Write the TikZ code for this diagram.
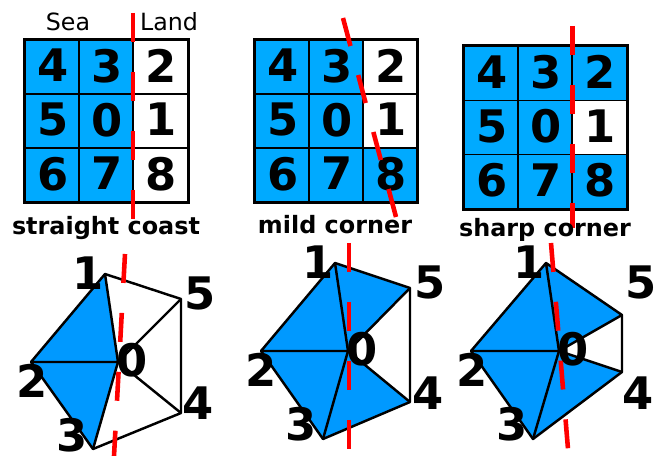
\documentclass[tikz,border=0pt]{standalone}
\usepackage{fontspec}
\setmainfont{DejaVu Sans}
\definecolor{seablue}{HTML}{00AAFF}
\definecolor{meshblue}{HTML}{0099FF}
\begin{document}
\begin{tikzpicture}[x=0.02cm, y=-0.02cm,
    digit/.style={font=\fontsize{25.5}{25.5}\selectfont\bfseries, inner sep=0pt},
    sea/.style={rectangle, draw=black, line width=1.1pt, fill=seablue, minimum size=1.08cm, inner sep=0pt,
                text depth=1.7pt, execute at begin node=\kern1pt,
                font=\fontsize{25.5}{25.5}\selectfont\bfseries},
    land/.style={sea, fill=white},
    frame/.style={draw=black, line width=1.5pt},
    caption/.style={anchor=base, inner sep=0pt, font=\fontsize{13.6}{13.6}\selectfont\bfseries},
    side/.style={anchor=base, inner sep=0pt, font=\fontsize{13.5}{13.5}\selectfont},
    wet/.style={fill=meshblue},
    edge/.style={draw=black, line width=1.4pt, line join=round},
    coast/.style={draw=red, line width=2.6pt, dash pattern=on 0.58cm off 0.6cm}]

    \useasboundingbox (0,0) rectangle (660,456);

    % straight coast
    \node (a4) [sea]  at (52,67)   {4};
    \node (a3) [sea]  at (106,67)  {3};
    \node (a2) [land] at (160.5,67) {2};
    \node (a5) [sea]  at (52,121)  {5};
    \node (a0) [sea]  at (106,121) {0};
    \node (a1) [land] at (160.5,121) {1};
    \node (a6) [sea]  at (52,175)  {6};
    \node (a7) [sea]  at (106,175) {7};
    \node (a8) [land] at (160.5,175) {8};
    \draw [frame] (a4.north west) rectangle (a8.south east);
    \coordinate (aTop) at (133,13);
    \coordinate (aBot) at (133,219);
    \draw [coast] (aTop) -- (aBot);
    \node (sea)  [side] at (68,31) {Sea};
    \node (land) [side] at (169,31) {Land};
    \node (aCap) [caption] at (106,235) {straight coast};

    % mild corner
    \node (b4) [sea]  at (282,67)  {4};
    \node (b3) [sea]  at (336,67)  {3};
    \node (b2) [land] at (390,67)  {2};
    \node (b5) [sea]  at (282,121) {5};
    \node (b0) [sea]  at (336,121) {0};
    \node (b1) [land] at (390,121) {1};
    \node (b6) [sea]  at (282,175) {6};
    \node (b7) [sea]  at (336,175) {7};
    \node (b8) [sea]  at (390,175) {8};
    \draw [frame] (b4.north west) rectangle (b8.south east);
    \coordinate (bTop) at (343,18);
    \coordinate (bBot) at (396,217);
    \draw [coast] (bTop) -- (bBot);
    \node (bCap) [caption] at (335,234) {mild corner};

    % sharp corner
    \node (c4) [sea] at (491,73.5)  {4};
    \node (c3) [sea] at (545,73.5)  {3};
    \node (c2) [sea] at (599.5,73.5) {2};
    \node (c5) [sea] at (491,127.5) {5};
    \node (c0) [sea] at (545,127.5) {0};
    \node (c1) [land] at (599.5,127.5) {1};
    \node (c6) [sea] at (491,181.5) {6};
    \node (c7) [sea] at (545,181.5) {7};
    \node (c8) [sea] at (599.5,181.5) {8};
    \draw [frame] (c4.north west) rectangle (c8.south east);
    \coordinate (cTop) at (572.5,26);
    \coordinate (cBot) at (572.5,228);
    \draw [coast] (cTop) -- (cBot);
    \node (cCap) [caption] at (545,236) {sharp corner};

    % meshes: vertices
    \coordinate (p0) at (118,362);
    \coordinate (p1) at (105,274);
    \coordinate (p2) at (31,362);
    \coordinate (p3) at (93,449);
    \coordinate (p4) at (181,413);
    \coordinate (p5) at (181,299);
    \coordinate (q0) at (348,351);
    \coordinate (q1) at (335,263);
    \coordinate (q2) at (261,351);
    \coordinate (q3) at (323,439);
    \coordinate (q4) at (410,402);
    \coordinate (q5) at (410,288);
    \coordinate (r0) at (559,351);
    \coordinate (r1) at (546,263);
    \coordinate (r2) at (471,351);
    \coordinate (r3) at (533,439);
    \coordinate (r4) at (622,372);
    \coordinate (r5) at (622,315);

    % wet triangles
    \fill [wet] (p0) -- (p1) -- (p2) -- (p3) -- cycle;
    \fill [wet] (q0) -- (q5) -- (q1) -- (q2) -- (q3) -- (q4) -- cycle;
    \fill [wet] (r0) -- (r5) -- (r1) -- (r2) -- (r3) -- (r4) -- cycle;

    % edges
    \draw [edge] (p1) -- (p5) -- (p4) -- (p3) -- (p2) -- (p1) -- (p0) -- (p2);
    \draw [edge] (p3) -- (p0) -- (p4);
    \draw [edge] (p0) -- (p5);
    \draw [edge] (q1) -- (q5) -- (q4) -- (q3) -- (q2) -- (q1) -- (q0) -- (q2);
    \draw [edge] (q3) -- (q0) -- (q4);
    \draw [edge] (q0) -- (q5);
    \draw [edge] (r1) -- (r5) -- (r4) -- (r3) -- (r2) -- (r1) -- (r0) -- (r2);
    \draw [edge] (r3) -- (r0) -- (r4);
    \draw [edge] (r0) -- (r5);

    % coast lines
    \coordinate (pTop) at (125,254);
    \coordinate (pBot) at (114,456);
    \coordinate (qTop) at (349,243);
    \coordinate (qBot) at (349,449);
    \coordinate (rTop) at (551,243);
    \coordinate (rBot) at (568,449);
    \draw [coast] (pTop) -- (pBot);
    \draw [coast] (qTop) -- (qBot);
    \draw [coast] (rTop) -- (rBot);

    % labels
    \node (lp1) [digit] at (88,273)  {1};
    \node (lp5) [digit] at (200,293) {5};
    \node (lp0) [digit] at (132,360) {0};
    \node (lp2) [digit] at (32,381)  {2};
    \node (lp3) [digit] at (72,435)  {3};
    \node (lp4) [digit] at (198,403) {4};
    \node (lq1) [digit] at (318,262) {1};
    \node (lq5) [digit] at (430,282) {5};
    \node (lq0) [digit] at (362,349) {0};
    \node (lq2) [digit] at (261,370) {2};
    \node (lq3) [digit] at (301,424) {3};
    \node (lq4) [digit] at (428,393) {4};
    \node (lr1) [digit] at (529,262) {1};
    \node (lr5) [digit] at (641,282) {5};
    \node (lr0) [digit] at (573,349) {0};
    \node (lr2) [digit] at (472,370) {2};
    \node (lr3) [digit] at (512,424) {3};
    \node (lr4) [digit] at (638,393) {4};
\end{tikzpicture}
\end{document}
